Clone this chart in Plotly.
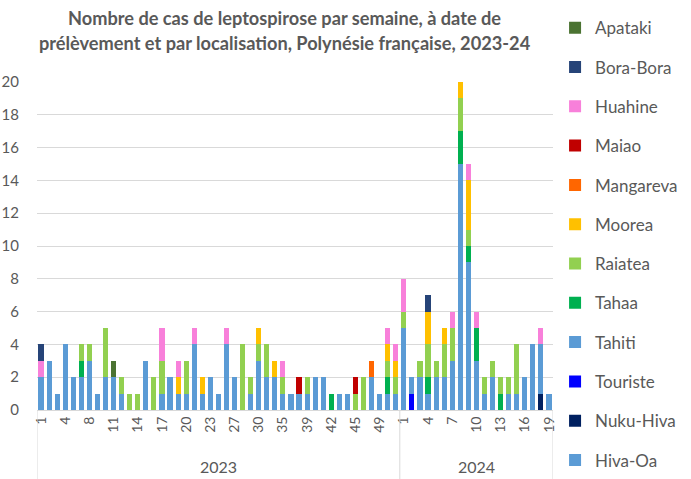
import plotly.graph_objects as go

# ---------------- data ----------------
weeks_2023 = [1, 2, 3, 4, 5, 7, 8, 9, 10, 11, 12, 13, 14, 15, 16, 17, 18, 19, 20, 21, 22, 23,
              24, 26, 27, 28, 29, 30, 31, 33, 35, 36, 38, 39, 40, 41, 42, 43, 44, 45, 46, 48,
              49, 50, 51]
weeks_2024 = list(range(1, 20))
years = ["2023", "2024"]

tahiti_2023 = [2, 3, 1, 4, 2, 2, 3, 1, 2, 2, 1, 0, 0, 3, 0, 1, 2, 1, 1, 4, 1, 2, 1, 4, 2, 0, 1, 3,
               2, 2, 1, 1, 1, 1, 2, 2, 0, 1, 1, 0, 0, 2, 1, 1, 1]
tahiti_2024 = [5, 1, 2, 1, 2, 2, 3, 15, 9, 3, 1, 2, 0, 1, 1, 2, 4, 3, 1]

raiatea_2023 = [0, 0, 0, 0, 0, 1, 1, 0, 3, 0, 1, 1, 1, 0, 2, 2, 0, 0, 2, 0, 0, 0, 0, 0, 0, 4, 1, 1,
                2, 0, 1, 0, 0, 1, 0, 0, 0, 0, 0, 1, 2, 0, 0, 1, 1]
raiatea_2024 = [1, 0, 1, 2, 1, 2, 2, 2, 1, 0, 1, 1, 1, 1, 3, 0, 0, 0, 0]

tahaa_2023 = [0, 0, 0, 0, 0, 1, 0, 0, 0, 0, 0, 0, 0, 0, 0, 0, 0, 0, 0, 0, 0, 0, 0, 0, 0, 0, 0, 0,
              0, 0, 0, 0, 0, 0, 0, 0, 1, 0, 0, 0, 0, 0, 0, 1, 0]
tahaa_2024 = [0, 0, 0, 1, 0, 0, 0, 2, 1, 2, 0, 0, 1, 0, 0, 0, 0, 0, 0]

huahine_2023 = [1, 0, 0, 0, 0, 0, 0, 0, 0, 0, 0, 0, 0, 0, 0, 2, 0, 1, 0, 1, 0, 0, 0, 1, 0, 0, 0, 0,
                0, 0, 1, 0, 0, 0, 0, 0, 0, 0, 0, 0, 0, 0, 0, 1, 1]
huahine_2024 = [2, 0, 0, 0, 0, 0, 1, 0, 1, 1, 0, 0, 0, 0, 0, 0, 0, 1, 0]

moorea_2023 = [0, 0, 0, 0, 0, 0, 0, 0, 0, 0, 0, 0, 0, 0, 0, 0, 0, 1, 0, 0, 1, 0, 0, 0, 0, 0, 0, 1,
               0, 1, 0, 0, 0, 0, 0, 0, 0, 0, 0, 0, 0, 0, 0, 1, 1]
moorea_2024 = [0, 0, 0, 2, 0, 1, 0, 1, 3, 0, 0, 0, 0, 0, 0, 0, 0, 0, 0]

borabora_2023 = [1] + [0] * 44
borabora_2024 = [0, 0, 0, 1] + [0] * 15

apataki_2023 = [0] * 9 + [1] + [0] * 35
apataki_2024 = [0] * 19

maiao_2023 = [0] * 32 + [1] + [0] * 6 + [1] + [0] * 5
maiao_2024 = [0] * 19

mangareva_2023 = [0] * 41 + [1] + [0] * 3
mangareva_2024 = [0] * 19

touriste_2023 = [0] * 45
touriste_2024 = [0, 1] + [0] * 17

nukuhiva_2023 = [0] * 45
nukuhiva_2024 = [0] * 17 + [1, 0]

hivaoa_2023 = [0] * 45
hivaoa_2024 = [0] * 19

# stacking order: first = bottom of the stack
series = [
    ("Hiva-Oa", hivaoa_2023 + hivaoa_2024, "#5B9BD5"),
    ("Nuku-Hiva", nukuhiva_2023 + nukuhiva_2024, "#002060"),
    ("Touriste", touriste_2023 + touriste_2024, "#0000FF"),
    ("Tahiti", tahiti_2023 + tahiti_2024, "#5B9BD5"),
    ("Tahaa", tahaa_2023 + tahaa_2024, "#00B050"),
    ("Raiatea", raiatea_2023 + raiatea_2024, "#92D050"),
    ("Moorea", moorea_2023 + moorea_2024, "#FFC000"),
    ("Mangareva", mangareva_2023 + mangareva_2024, "#FF6600"),
    ("Maiao", maiao_2023 + maiao_2024, "#C00000"),
    ("Huahine", huahine_2023 + huahine_2024, "#F880DA"),
    ("Bora-Bora", borabora_2023 + borabora_2024, "#264478"),
    ("Apataki", apataki_2023 + apataki_2024, "#4B7332"),
]

title_lines = ["Nombre de cas de leptospirose par semaine, à date de",
               "prélèvement et par localisation, Polynésie française, 2023-24"]

weeks_all = weeks_2023 + weeks_2024
year_all = [years[0]] * len(weeks_2023) + [years[1]] * len(weeks_2024)
xpos = list(range(len(weeks_all)))
n23 = len(weeks_2023)
n_all = len(weeks_all)

FONT = "Lato, 'Open Sans', sans-serif"
GREY = "#595959"
LINE = "#D9D9D9"

fig = go.Figure()
nser = len(series)
for k, (name, vals, color) in enumerate(series):
    fig.add_trace(go.Bar(
        x=xpos, y=vals, name=name, legendgroup=name,
        legendrank=1000 + (nser - k),
        marker=dict(color=color, line=dict(width=0)),
        customdata=[[y, w] for y, w in zip(year_all, weeks_all)],
        hovertemplate="%{customdata[0]} S%{customdata[1]}<br>" + name + ": %{y}<extra></extra>",
    ))

tickvals = xpos[::3]
ticktext = [str(weeks_all[i]) for i in tickvals]

fig.update_layout(
    barmode="stack",
    bargap=0.36,
    width=691, height=479,
    margin=dict(l=37, r=138, t=82, b=69, autoexpand=False),
    paper_bgcolor="white", plot_bgcolor="white",
    font=dict(family=FONT, color=GREY, size=14),
    legend=dict(
        x=1.004, xanchor="left", y=1.219, yanchor="top",
        traceorder="grouped", tracegroupgap=14.2,
        font=dict(family=FONT, size=17, color=GREY),
        itemwidth=30, maxheight=900,
    ),
    xaxis=dict(
        range=[-0.5, n_all - 0.5], automargin=False,
        tickmode="array", tickvals=tickvals, ticktext=ticktext,
        tickangle=-90, tickfont=dict(size=14, color=GREY),
        showgrid=False, zeroline=False,
        showline=True, linecolor=LINE, linewidth=1,
        ticks="", fixedrange=True,
    ),
    yaxis=dict(
        range=[0, 20], dtick=2, tick0=0, automargin=False,
        showgrid=True, gridcolor=LINE, gridwidth=1,
        zeroline=False, showline=False,
        tickfont=dict(size=15, color=GREY),
        ticks="", ticklabelstandoff=17,
    ),
)

# two-line chart title
for line, ypos in zip(title_lines, [1.195, 1.119]):
    fig.add_annotation(text="<b>" + line + "</b>", xref="paper", yref="paper",
                       x=0.4806, y=ypos, xanchor="center", yanchor="middle",
                       showarrow=False, font=dict(family=FONT, size=18.2, color=GREY))

# group separators and year labels of the two-level category axis
bounds = [-0.5, n23 - 0.5, n_all - 0.5]
for b in bounds:
    fig.add_shape(type="line", xref="x", yref="paper", x0=b, x1=b, y0=0, y1=-0.215,
                  line=dict(color=LINE, width=1))
for yr, (a, b) in zip(years, [(bounds[0], bounds[1]), (bounds[1], bounds[2])]):
    fig.add_annotation(text=yr, xref="x", yref="paper", x=(a + b) / 2, y=-0.171,
                       showarrow=False, font=dict(family=FONT, size=16, color=GREY),
                       yanchor="middle")

fig.write_html("out.html",
               config={"displayModeBar": False},
               post_script="document.body.style.margin='0';document.body.style.overflow='hidden';")
